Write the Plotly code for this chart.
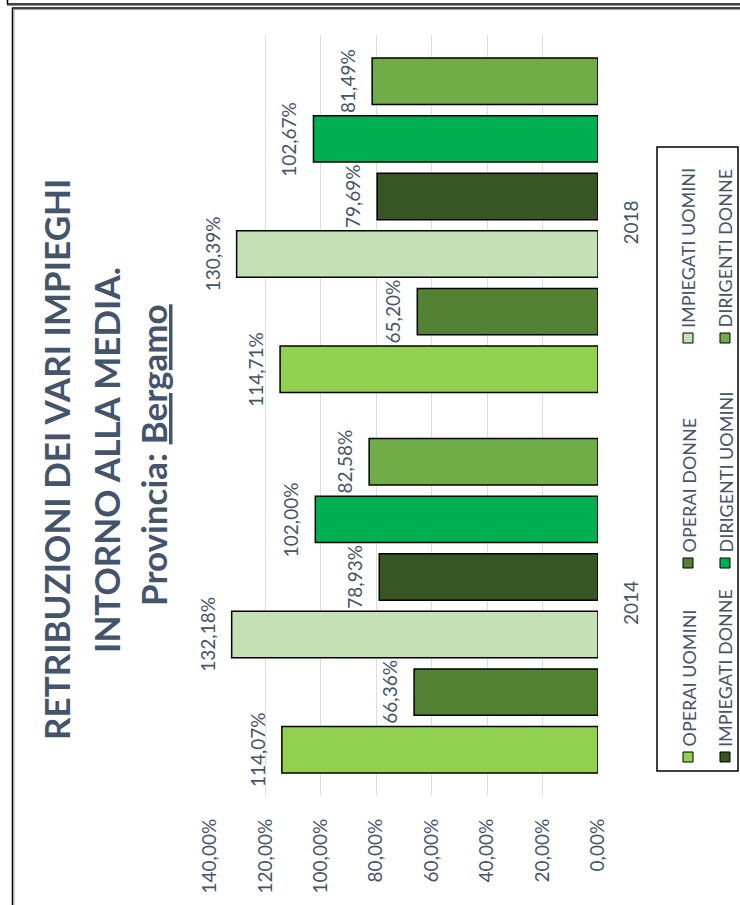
import plotly.graph_objects as go

W, H = 740, 905

years = ["2014", "2018"]
series_names = ["OPERAI UOMINI", "OPERAI DONNE", "IMPIEGATI UOMINI",
                "IMPIEGATI DONNE", "DIRIGENTI UOMINI", "DIRIGENTI DONNE"]
operai_uomini = [1.1407, 1.1471]
operai_donne = [0.6636, 0.6520]
impiegati_uomini = [1.3218, 1.3039]
impiegati_donne = [0.7893, 0.7969]
dirigenti_uomini = [1.0200, 1.0267]
dirigenti_donne = [0.8258, 0.8149]
series_values = [operai_uomini, operai_donne, impiegati_uomini,
                 impiegati_donne, dirigenti_uomini, dirigenti_donne]
colors = ["#92D050", "#548235", "#C5E0B4", "#375623", "#00B050", "#70AD47"]

title_lines = ["<b>RETRIBUZIONI DEI VARI IMPIEGHI</b>",
               "<b>INTORNO ALLA MEDIA.</b>",
               "<b>Provincia: <u>Bergamo</u></b>"]

TXT = "#44546A"
FONT = "Lato"
LBL = 19

# plot area in pixels
PL, PR, PT, PB = 210, 598, 35, 796
BARGAP, GROUPGAP = 0.092, 0.193

def px(x):
    return x / W

def py(y):
    return 1 - y / H

fig = go.Figure()
for name, vals, col in zip(series_names, series_values, colors):
    fig.add_trace(go.Bar(
        name=name, y=years, x=vals, orientation="h",
        marker=dict(color=col, line=dict(color="#000000", width=1.5)),
        showlegend=False,
    ))

fig.update_layout(
    width=W, height=H,
    margin=dict(l=0, r=0, t=0, b=0),
    paper_bgcolor="white", plot_bgcolor="white",
    separators=",.",
    barmode="group", bargap=BARGAP, bargroupgap=GROUPGAP,
    font=dict(family=FONT, color=TXT),
    xaxis=dict(domain=[px(PL), px(PR)], range=[1.4, 0], autorange=False, dtick=0.2,
               tickformat=".2%", tickangle=-90, showgrid=True,
               gridcolor="#D9DEE6", gridwidth=1, zeroline=False,
               showline=False, ticks="", automargin=False,
               ticklabelstandoff=18,
               tickfont=dict(family=FONT, size=LBL, color=TXT)),
    yaxis=dict(domain=[py(PB), py(PT)], type="category", side="right",
               categoryorder="array", categoryarray=years,
               range=[-0.5, len(years) - 0.5], autorange=False,
               tickangle=-90, showgrid=False, zeroline=False, showline=False,
               ticks="", automargin=False, ticklabelstandoff=20,
               tickfont=dict(family=FONT, size=LBL, color=TXT)),
)

annotations = []

# data labels: outside end of each bar, rotated like the chart
band_px = (PB - PT) / len(years)
slot_px = band_px * (1 - BARGAP) / len(series_names)
n = len(series_names)
for i, vals in enumerate(series_values):
    off = (i - (n - 1) / 2) * slot_px
    for j, v in enumerate(vals):
        annotations.append(dict(
            text=f"{v*100:.2f}%".replace(".", ","), xref="x", yref="y",
            x=v, y=j, xanchor="right", yanchor="middle", xshift=-11, yshift=off,
            textangle=-90, showarrow=False,
            font=dict(family=FONT, size=LBL, color=TXT)))

# title lines (rotated)
title_pos = [(56, 460), (106, 460), (153, 455)]
for t, (x, y) in zip(title_lines, title_pos):
    annotations.append(dict(text=t, xref="paper", yref="paper", x=px(x), y=py(y),
                            xanchor="center", yanchor="middle", textangle=-90,
                            showarrow=False, font=dict(family=FONT, size=35, color=TXT)))

# legend (rotated)
leg_x = [688, 725]
leg_y = [757, 563, 338]
shapes = []
for i, (name, col) in enumerate(zip(series_names, colors)):
    row = i // 3
    slot = i % 3
    cx = leg_x[row]
    cy = leg_y[slot]
    shapes.append(dict(type="rect", xref="paper", yref="paper",
                       x0=px(cx - 5), x1=px(cx + 5), y0=py(cy + 5), y1=py(cy - 5),
                       fillcolor=col, line=dict(color="#000000", width=1)))
    annotations.append(dict(text=name, xref="paper", yref="paper", x=px(cx), y=py(cy - 8),
                            xanchor="center", yanchor="bottom", textangle=-90,
                            showarrow=False, font=dict(family=FONT, size=18, color=TXT)))

# legend frame
shapes.append(dict(type="rect", xref="paper", yref="paper",
                   x0=px(657), x1=px(738), y0=py(771), y1=py(147),
                   line=dict(color="#000000", width=1.5)))

# outer frames
def line(x0, y0, x1, y1, color, w):
    shapes.append(dict(type="line", xref="paper", yref="paper",
                       x0=px(x0), y0=py(y0), x1=px(x1), y1=py(y1),
                       line=dict(color=color, width=w)))

line(7.5, 0, 7.5, 4.5, "#000000", 1.5)
line(7, 4, 740, 4, "#000000", 1.5)
line(7, 5.5, 740, 5.5, "#9A9A9A", 1)
line(12, 8, 740, 8, "#000000", 1.5)
line(12.5, 8, 12.5, 905, "#000000", 1.5)
line(14, 9.5, 740, 9.5, "#9A9A9A", 1)
line(14, 9.5, 14, 905, "#9A9A9A", 1)

fig.update_layout(annotations=annotations, shapes=shapes)
fig.write_html("out.html", config={"displayModeBar": False},
               post_script="document.body.style.margin='0';document.body.style.overflow='hidden';")
